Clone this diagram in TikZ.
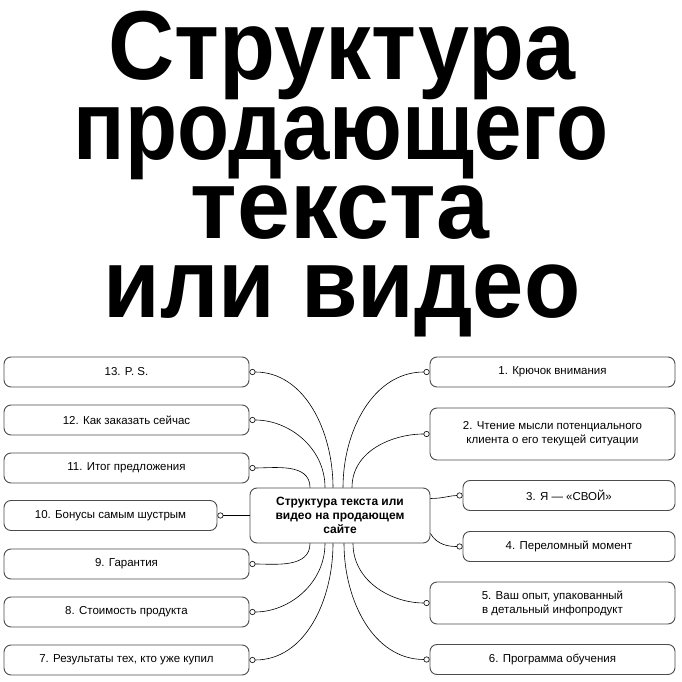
\documentclass[tikz,border=0pt]{standalone}
\usepackage{fontspec}
\setmainfont{Liberation Sans}
\usetikzlibrary{arrows.meta}

\begin{document}
\begin{tikzpicture}[x=1pt,y=1pt,
        item/.style={draw=black!70, line width=0.9pt, rounded corners=7pt, fill=white,
            minimum width=245pt, minimum height=30pt, align=center, inner sep=2pt,
            font=\fontsize{11.5}{14}\selectfont},
        hub/.style={item, minimum width=180pt, minimum height=55pt, font=\fontsize{12}{14}\selectfont\bfseries},
        link/.style={{Circle[open,length=6pt,width=6pt]}-, line width=0.6pt},
        headline/.style={anchor=base, inner sep=0pt, text height=70pt, text depth=0pt,
            font=\fontsize{98}{98}\selectfont\bfseries}]
    \useasboundingbox (0,0) rectangle (682,682);
    \node[headline] (t1) at (342,602) {\scalebox{0.935}[1]{Структура}};
    \node[headline] (t2) at (341,522) {\scalebox{0.87}[1]{продающего}};
    \node[headline] (t3) at (340,443) {\scalebox{0.97}[1]{текста}};
    \node[headline] (t4) at (342,364) {\scalebox{0.94}[1]{или видео}};

    \node[hub] (c) at (340,166.5) {Структура текста или\\видео на продающем\\сайте};

    \node[item] (b1) at (552.5,310) {1. Крючок внимания};
    \node[item, minimum height=52pt] (b2) at (552.5,248) {2. Чтение мысли потенциального\\клиента о его текущей ситуации};
    \node[item, minimum width=212pt] (b3) at (569,186.5) {3. Я — «СВОЙ»};
    \node[item, minimum width=212pt] (b4) at (569,135.5) {4. Переломный момент};
    \node[item, minimum height=42pt] (b5) at (552.5,79) {5. Ваш опыт, упакованный\\в детальный инфопродукт};
    \node[item] (b6) at (552.5,22.5) {6. Программа обучения};
    \node[item] (b7) at (126.5,22) {7. Результаты тех, кто уже купил};
    \node[item] (b8) at (126.5,70) {8. Стоимость продукта};
    \node[item] (b9) at (126.5,118) {9. Гарантия};
    \node[item, minimum width=213pt] (b10) at (110.5,166.5) {10. Бонусы самым шустрым};
    \node[item] (b11) at (126.5,214) {11. Итог предложения};
    \node[item] (b12) at (126.5,262) {12. Как заказать сейчас};
    \node[item] (b13) at (126.5,310) {13. P. S.};

    \draw[link] (b1.west) to[out=180, in=90] ([xshift=3pt]c.north);
    \draw[link] (b2.west) to[out=180, in=90] ([xshift=12pt]c.north);
    \draw[link] (b3.west) to[out=180, in=0] ([yshift=17pt]c.east);
    \draw[link] (b4.west) to[out=180, in=-60] ([yshift=-18pt]c.east);
    \draw[link] (b5.west) to[out=180, in=-90] ([xshift=13pt]c.south);
    \draw[link] (b6.west) to[out=180, in=-90] ([xshift=4pt]c.south);
    \draw[link] (b7.east) to[out=0, in=-90] ([xshift=-7pt]c.south);
    \draw[link] (b8.east) to[out=0, in=-90] ([xshift=-15pt]c.south);
    \draw[link] (b9.east) to[out=0, in=-90] ([xshift=-30pt]c.south);
    \draw[link] (b10.east) -- (c.west);
    \draw[link] (b11.east) to[out=0, in=90] ([xshift=-30pt]c.north);
    \draw[link] (b12.east) to[out=0, in=90] ([xshift=-15pt]c.north);
    \draw[link] (b13.east) to[out=0, in=90] ([xshift=-7pt]c.north);
\end{tikzpicture}
\end{document}
